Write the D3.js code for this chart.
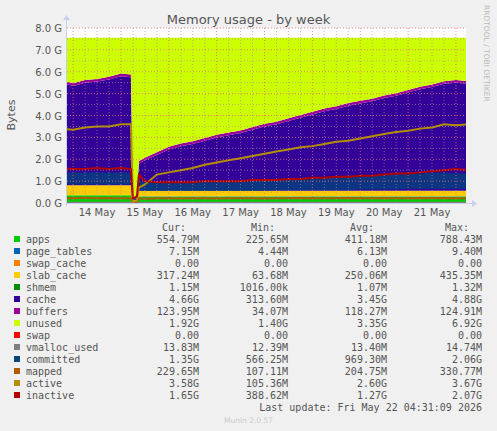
<!DOCTYPE html>
<html><head><meta charset="utf-8">
<script src="https://cdn.jsdelivr.net/npm/d3@7"></script>
<style>body{margin:0;background:#F0F0F0}</style>
</head><body>
<script>
// time points (local), values in G
var times = ["2026-05-13T18:00","2026-05-14T00:00","2026-05-14T06:00","2026-05-14T12:00","2026-05-14T18:00",
	"2026-05-15T00:00","2026-05-15T05:00","2026-05-15T06:00","2026-05-15T08:00","2026-05-15T09:00","2026-05-15T12:00","2026-05-15T18:00",
	"2026-05-16T00:00","2026-05-16T06:00","2026-05-16T12:00","2026-05-16T18:00",
	"2026-05-17T00:00","2026-05-17T06:00","2026-05-17T12:00","2026-05-17T18:00",
	"2026-05-18T00:00","2026-05-18T06:00","2026-05-18T12:00","2026-05-18T18:00",
	"2026-05-19T00:00","2026-05-19T06:00","2026-05-19T12:00","2026-05-19T18:00",
	"2026-05-20T00:00","2026-05-20T06:00","2026-05-20T12:00","2026-05-20T18:00",
	"2026-05-21T00:00","2026-05-21T06:00","2026-05-21T12:00","2026-05-21T18:00",
	"2026-05-22T00:00","2026-05-22T06:00"];
var apps       = [0.35,0.35,0.35,0.35,0.35,0.35,0.35,0.10,0.10,0.30,0.30,0.30,0.30,0.30,0.30,0.30,0.30,0.30,0.30,0.30,0.30,0.30,0.30,0.30,0.30,0.30,0.30,0.30,0.30,0.30,0.30,0.30,0.30,0.30,0.30,0.30,0.30,0.30];
var pageTables = [0.01,0.01,0.01,0.01,0.01,0.01,0.01,0.00,0.00,0.01,0.01,0.01,0.01,0.01,0.01,0.01,0.01,0.01,0.01,0.01,0.01,0.01,0.01,0.01,0.01,0.01,0.01,0.01,0.01,0.01,0.01,0.01,0.01,0.01,0.01,0.01,0.01,0.01];
var swapCache  = [0,0,0,0,0,0,0,0,0,0,0,0,0,0,0,0,0,0,0,0,0,0,0,0,0,0,0,0,0,0,0,0,0,0,0,0,0,0];
var slabCache  = [0.45,0.45,0.45,0.45,0.45,0.45,0.45,0.05,0.05,0.25,0.25,0.25,0.25,0.25,0.25,0.25,0.25,0.25,0.25,0.25,0.25,0.25,0.25,0.25,0.25,0.25,0.25,0.25,0.25,0.25,0.25,0.25,0.25,0.25,0.25,0.25,0.25,0.25];
var shmem      = [0,0,0,0,0,0,0,0,0,0,0,0,0,0,0,0,0,0,0,0,0,0,0,0,0,0,0,0,0,0,0,0,0,0,0,0,0,0];
var cache      = [4.69,4.54,4.69,4.74,4.84,4.99,4.94,0.05,0.05,1.24,1.39,1.64,1.89,2.04,2.14,2.29,2.44,2.54,2.64,2.79,2.94,3.04,3.19,3.34,3.49,3.64,3.74,3.89,3.99,4.09,4.24,4.34,4.49,4.64,4.74,4.89,4.94,4.89];
var buffers    = [0.12,0.12,0.12,0.12,0.12,0.12,0.12,0.02,0.02,0.12,0.12,0.12,0.12,0.12,0.12,0.12,0.12,0.12,0.12,0.12,0.12,0.12,0.12,0.12,0.12,0.12,0.12,0.12,0.12,0.12,0.12,0.12,0.12,0.12,0.12,0.12,0.12,0.12];
var unused     = [1.93,2.08,1.93,1.88,1.78,1.63,1.68,7.35,7.35,5.63,5.48,5.23,4.98,4.83,4.73,4.58,4.43,4.33,4.23,4.08,3.93,3.83,3.68,3.53,3.38,3.23,3.13,2.98,2.88,2.78,2.63,2.53,2.38,2.23,2.13,1.98,1.93,1.98];
var swap       = [0,0,0,0,0,0,0,0,0,0,0,0,0,0,0,0,0,0,0,0,0,0,0,0,0,0,0,0,0,0,0,0,0,0,0,0,0,0];
var vmalloc    = [0.01,0.01,0.01,0.01,0.01,0.01,0.01,0.01,0.01,0.01,0.01,0.01,0.01,0.01,0.01,0.01,0.01,0.01,0.01,0.01,0.01,0.01,0.01,0.01,0.01,0.01,0.01,0.01,0.01,0.01,0.01,0.01,0.01,0.01,0.01,0.01,0.01,0.01];
var committedLow  = [0.85,0.85,0.85,0.85,0.85,0.85,0.85,0.15,0.15,0.55,0.55,0.55,0.55,0.55,0.55,0.55,0.55,0.55,0.55,0.55,0.55,0.58,0.58,0.58,0.60,0.60,0.60,0.60,0.62,0.62,0.62,0.62,0.65,0.65,0.65,0.65,0.65,0.65];
var committedHigh = [1.40,1.40,1.40,1.40,1.40,1.40,1.40,0.20,0.25,1.00,0.95,0.95,0.95,0.95,0.95,1.00,1.00,1.00,1.05,1.05,1.05,1.10,1.10,1.15,1.15,1.20,1.20,1.25,1.25,1.30,1.30,1.30,1.35,1.35,1.40,1.40,1.35,1.35];
var mapped     = [0.22,0.22,0.24,0.22,0.23,0.22,0.22,0.05,0.05,0.22,0.20,0.22,0.22,0.21,0.22,0.22,0.21,0.22,0.22,0.22,0.21,0.22,0.22,0.23,0.22,0.22,0.22,0.23,0.22,0.22,0.23,0.22,0.22,0.23,0.22,0.23,0.22,0.22];
var active     = [3.40,3.35,3.45,3.50,3.50,3.60,3.60,0.05,0.10,0.70,0.85,1.30,1.40,1.50,1.60,1.75,1.85,1.95,2.05,2.15,2.25,2.35,2.45,2.55,2.60,2.70,2.80,2.85,2.95,3.05,3.15,3.25,3.30,3.40,3.45,3.60,3.55,3.60];
var inactive   = [1.60,1.55,1.55,1.60,1.55,1.60,1.55,0.20,0.30,1.30,1.00,0.95,0.95,0.95,0.95,1.00,1.00,1.00,1.00,1.05,1.05,1.05,1.10,1.10,1.15,1.15,1.20,1.20,1.25,1.25,1.30,1.35,1.35,1.40,1.45,1.50,1.55,1.50];

var yTicks = [0,1,2,3,4,5,6,7,8];
var dayLabels = ["14 May","15 May","16 May","17 May","18 May","19 May","20 May","21 May"];

var legendRows = [
	["apps","#00CC00","554.79M","225.65M","411.18M","788.43M"],
	["page_tables","#0066B3","7.15M","4.44M","6.13M","9.40M"],
	["swap_cache","#FF8000","0.00","0.00","0.00","0.00"],
	["slab_cache","#FFCC00","317.24M","63.68M","250.06M","435.35M"],
	["shmem","#008F00","1.15M","1016.00k","1.07M","1.32M"],
	["cache","#330099","4.66G","313.60M","3.45G","4.88G"],
	["buffers","#990099","123.95M","34.07M","118.27M","124.91M"],
	["unused","#CCFF00","1.92G","1.40G","3.35G","6.92G"],
	["swap","#FF0000","0.00","0.00","0.00","0.00"],
	["vmalloc_used","#808080","13.83M","12.39M","13.40M","14.74M"],
	["committed","#00487D","1.35G","566.25M","969.30M","2.06G"],
	["mapped","#B35A00","229.65M","107.11M","204.75M","330.77M"],
	["active","#B38F00","3.58G","105.36M","2.60G","3.67G"],
	["inactive","#B30000","1.65G","388.62M","1.27G","2.07G"]
];

var W = 497, H = 431;
var pLeft = 67, pRight = 466, pTop = 28, pBottom = 203;
var svg = d3.select("body").append("svg").attr("width", W).attr("height", H)
	.style("font-family", "DejaVu Sans");

var parse = d3.timeParse("%Y-%m-%dT%H:%M");
var t = times.map(parse);
var x = d3.scaleTime()
	.domain([parse("2026-05-13T20:57"), parse("2026-05-22T05:02")])
	.range([pLeft, pRight]);
var y = d3.scaleLinear().domain([0, 8]).range([pBottom, pTop]);

svg.append("rect").attr("x", pLeft).attr("y", pTop).attr("width", pRight - pLeft).attr("height", pBottom - pTop).attr("fill", "#fff");

svg.append("clipPath").attr("id", "c").append("rect")
	.attr("x", pLeft).attr("y", pTop).attr("width", pRight - pLeft).attr("height", pBottom - pTop);
var plot = svg.append("g").attr("clip-path", "url(#c)");

// stacked areas
var stackSeries = [apps, pageTables, swapCache, slabCache, shmem, cache, buffers, unused, swap];
var stackColors = ["#00CC00","#0066B3","#FF8000","#FFCC00","#008F00","#330099","#990099","#CCFF00","#FF0000"];
var base = t.map(function(){ return 0; });
stackSeries.forEach(function(s, k) {
	var lo = base.slice();
	var hi = lo.map(function(v, i){ return v + s[i]; });
	plot.append("path")
		.datum(t.map(function(d, i){ return [d, lo[i], hi[i]]; }))
		.attr("fill", stackColors[k])
		.attr("d", d3.area().x(function(d){ return x(d[0]); }).y0(function(d){ return y(d[1]); }).y1(function(d){ return y(d[2]); }));
	base = hi;
});

// committed band
plot.append("path")
	.datum(t.map(function(d, i){ return [d, committedLow[i], committedHigh[i]]; }))
	.attr("fill", "#00487D").attr("opacity", 0.75)
	.attr("d", d3.area().x(function(d){ return x(d[0]); }).y0(function(d){ return y(d[1]); }).y1(function(d){ return y(d[2]); }));

// grid
var g = svg.append("g");
var sixH = d3.timeHour.every(6).range(x.domain()[0], x.domain()[1]);
sixH.forEach(function(d) {
	var major = d.getHours() === 0;
	g.append("line").attr("x1", x(d)).attr("x2", x(d)).attr("y1", pTop).attr("y2", pBottom)
		.attr("stroke", major ? "#e07070" : "#b09090").attr("stroke-width", 0.8)
		.attr("stroke-dasharray", "1,2").attr("opacity", major ? 1 : 0.8);
});
d3.range(0.5, 8.01, 0.5).forEach(function(v) {
	g.append("line").attr("x1", pLeft).attr("x2", pRight).attr("y1", y(v)).attr("y2", y(v))
		.attr("stroke", v % 1 === 0 ? "#e07070" : "#b09090").attr("stroke-width", 0.8)
		.attr("stroke-dasharray", "1,2").attr("opacity", v % 1 === 0 ? 1 : 0.8);
});

// lines
var lineSeries = [[vmalloc,"#808080"],[mapped,"#B35A00"],[active,"#B38F00"],[inactive,"#B30000"]];
lineSeries.forEach(function(s) {
	plot.append("path")
		.datum(t.map(function(d, i){ return [d, s[0][i]]; }))
		.attr("fill", "none").attr("stroke", s[1]).attr("stroke-width", 2)
		.attr("d", d3.line().x(function(d){ return x(d[0]); }).y(function(d){ return y(d[1]); }));
});

// axes
svg.append("line").attr("x1", pLeft).attr("x2", pRight + 6).attr("y1", pBottom + 0.5).attr("y2", pBottom + 0.5).attr("stroke", "#c8d0f0");
svg.append("line").attr("x1", pLeft - 0.5).attr("x2", pLeft - 0.5).attr("y1", pBottom + 3).attr("y2", pTop - 8).attr("stroke", "#c8d0f0");
svg.append("path").attr("d", "M" + (pRight + 6) + "," + (pBottom - 3) + "L" + (pRight + 11) + "," + (pBottom + 0.5) + "L" + (pRight + 6) + "," + (pBottom + 4) + "Z").attr("fill", "#c8d0f0");
svg.append("path").attr("d", "M" + (pLeft - 4) + "," + (pTop - 8) + "L" + (pLeft - 0.5) + "," + (pTop - 13) + "L" + (pLeft + 3) + "," + (pTop - 8) + "Z").attr("fill", "#c8d0f0");

yTicks.forEach(function(v) {
	svg.append("text").attr("x", pLeft - 5).attr("y", y(v) + 4).attr("text-anchor", "end")
		.attr("font-size", "10px").attr("fill", "#555").text(v.toFixed(1) + " G");
});
dayLabels.forEach(function(lbl, i) {
	var d = parse("2026-05-" + (14 + i) + "T12:00");
	svg.append("text").attr("x", x(d)).attr("y", pBottom + 13).attr("text-anchor", "middle")
		.attr("font-size", "10px").attr("fill", "#555").text(lbl);
});

svg.append("text").attr("x", W / 2).attr("y", 24).attr("text-anchor", "middle")
	.attr("font-size", "13px").attr("fill", "#555").text("Memory usage - by week");
svg.append("text").attr("transform", "translate(15,115) rotate(-90)").attr("text-anchor", "middle")
	.attr("font-size", "11px").attr("fill", "#555").text("Bytes");
svg.append("text").attr("transform", "translate(484,5) rotate(90)").attr("text-anchor", "start")
	.attr("font-size", "7.5px").attr("fill", "#bbb").text("RRDTOOL / TOBI OETIKER");

// legend
var mono = "DejaVu Sans Mono";
var cols = [199, 288, 387, 482];
["Cur:","Min:","Avg:","Max:"].forEach(function(h, i) {
	svg.append("text").attr("x", cols[i] - 13).attr("y", 231).attr("text-anchor", "end")
		.attr("font-family", mono).attr("font-size", "10px").attr("fill", "#555").text(h);
});
legendRows.forEach(function(r, i) {
	var yy = 243 + i * 12;
	svg.append("rect").attr("x", 14).attr("y", yy - 7).attr("width", 6).attr("height", 6).attr("fill", r[1]);
	svg.append("text").attr("x", 26).attr("y", yy).attr("font-family", mono).attr("font-size", "10px")
		.attr("fill", "#555").text(r[0]);
	for (var k = 0; k < 4; k++) {
		svg.append("text").attr("x", cols[k]).attr("y", yy).attr("text-anchor", "end")
			.attr("font-family", mono).attr("font-size", "10px").attr("fill", "#555").text(r[2 + k]);
	}
});
svg.append("text").attr("x", 482).attr("y", 411).attr("text-anchor", "end")
	.attr("font-family", mono).attr("font-size", "10px").attr("fill", "#555")
	.text("Last update: Fri May 22 04:31:09 2026");
svg.append("text").attr("x", W / 2).attr("y", 423).attr("text-anchor", "middle")
	.attr("font-size", "7.5px").attr("fill", "#ccc").text("Munin 2.0.57");
</script>
</body></html>
